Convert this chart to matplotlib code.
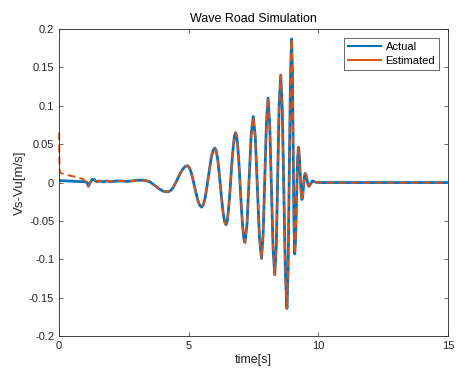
import numpy as np
import matplotlib
matplotlib.use("Agg")
import matplotlib.pyplot as plt

plt.rcParams["font.family"] = ["Liberation Sans", "DejaVu Sans"]

actual_t = [0.0, 1.0, 1.08, 1.13, 1.2, 1.28, 1.35, 1.45, 1.55, 1.7, 1.85, 2.0, 2.2,
            2.4, 2.6, 2.8, 3.0, 3.3, 3.5, 3.7, 3.85, 4.0, 4.1, 4.2,
            4.294, 4.39, 4.481, 4.575, 4.669, 4.76, 4.856, 4.95,
            5.019, 5.09, 5.156, 5.225, 5.294, 5.36, 5.431, 5.50,
            5.564, 5.63, 5.691, 5.755, 5.819, 5.88, 5.946, 6.01,
            6.064, 6.12, 6.171, 6.225, 6.279, 6.33, 6.386, 6.44,
            6.486, 6.53, 6.579, 6.625, 6.671, 6.72, 6.764, 6.81,
            6.855, 6.90, 6.945, 6.99, 7.035, 7.08, 7.125, 7.17,
            7.25, 7.33, 7.41, 7.49,
            7.57, 7.65, 7.73, 7.81,
            7.87, 7.935, 8.00, 8.06,
            8.125, 8.19, 8.255, 8.32,
            8.38, 8.435, 8.49, 8.55,
            8.61, 8.67, 8.73, 8.79,
            8.835, 8.88, 8.925, 8.97,
            9.00, 9.03, 9.06, 9.09,
            9.125, 9.16, 9.195, 9.23,
            9.265, 9.30, 9.335, 9.37,
            9.40, 9.43, 9.46, 9.49,
            9.53, 9.565, 9.60, 9.64,
            9.705, 9.77, 9.9, 10.0, 15.0]
actual_v = [0.0025, 0.001, 0.0, -0.005, 0.0, 0.004, 0.004, 0.001, 0.002, 0.001, 0.002, 0.001, 0.002,
            0.002, 0.0015, 0.002, 0.003, 0.003, 0.001, -0.004, -0.008, -0.011, -0.012, -0.012,
            -0.0107, -0.007, -0.0015, 0.005, 0.0115, 0.017, 0.0207, 0.022,
            0.0199, 0.014, 0.0053, -0.005, -0.0153, -0.024, -0.0299, -0.032,
            -0.0291, -0.021, -0.0082, 0.0065, 0.0212, 0.034, 0.0421, 0.045,
            0.0412, 0.030, 0.0141, -0.005, -0.0241, -0.040, -0.0512, -0.055,
            -0.0504, -0.037, -0.018, 0.005, 0.028, 0.047, 0.0604, 0.065,
            0.0596, 0.044, 0.0209, -0.0065, -0.0339, -0.057, -0.0726, -0.078,
            -0.054, 0.004, 0.062, 0.086,
            0.059, -0.0065, -0.072, -0.099,
            -0.068, 0.0055, 0.079, 0.110,
            0.076, -0.005, -0.086, -0.120,
            -0.082, 0.010, 0.102, 0.140,
            0.096, -0.0115, -0.119, -0.164,
            -0.112, 0.012, 0.136, 0.187,
            0.146, 0.047, -0.052, -0.093,
            -0.073, -0.0235, 0.026, 0.046,
            0.036, 0.012, -0.012, -0.022,
            -0.017, -0.005, 0.007, 0.012,
            0.0095, 0.0035, -0.0025, -0.005,
            -0.0015, 0.002, 0.0005, 0.0, 0.0]

# Estimated: 초반 구간만 실측과 다름, 이후는 실측을 따라감
est_early_t = [0.0, 0.01, 0.03, 0.1, 0.3, 0.55, 0.75, 0.95]
est_early_v = [0.065, 0.03, 0.013, 0.012, 0.010, 0.008, 0.0065, 0.004]

BLUE = "#0072BD"
ORANGE = "#D95319"
GRAY = "#262626"


def main() -> None:
    at = np.array(actual_t)
    av = np.array(actual_v)
    mask = at >= 1.0
    est_t = np.concatenate([est_early_t, at[mask]])
    est_v = np.concatenate([est_early_v, av[mask]])

    fig = plt.figure(figsize=(4.58, 3.76), dpi=100)
    ax = fig.add_axes([0.129, 0.106, 0.849, 0.817])

    ax.plot(at, av, color=BLUE, linewidth=2.0, label="Actual")
    # t=0 의 스파이크가 축선 위에 보이도록 클리핑 해제
    ax.plot(est_t, est_v, color=ORANGE, linewidth=1.4, linestyle="--",
            dashes=(4, 2.2), label="Estimated", clip_on=False)

    ax.set_xlim(0, 15)
    ax.set_ylim(-0.2, 0.2)
    ax.set_xticks([0, 5, 10, 15])
    ax.set_yticks(np.arange(-0.2, 0.201, 0.05))
    ax.set_yticklabels(["-0.2", "-0.15", "-0.1", "-0.05", "0", "0.05", "0.1", "0.15", "0.2"])

    ax.tick_params(direction="in", length=3, width=0.5, colors=GRAY, labelsize=8,
                   top=True, right=True)
    for sp in ax.spines.values():
        sp.set_color(GRAY)
        sp.set_linewidth(0.6)

    ax.set_title("Wave Road Simulation", fontsize=9, color="black", pad=5)
    ax.set_xlabel("time[s]", fontsize=9, color=GRAY, labelpad=2)
    ax.set_ylabel("Vs-Vu[m/s]", fontsize=9.5, color=GRAY, labelpad=2)

    leg = ax.legend(loc="upper right", fontsize=8, frameon=True, fancybox=False,
                    edgecolor=GRAY, handlelength=3.0, borderaxespad=0.8,
                    handletextpad=0.4, borderpad=0.35, labelspacing=0.35)
    leg.get_frame().set_linewidth(0.6)
    # 범례 안의 Estimated 선은 실선처럼 보임
    leg.get_lines()[1].set_linestyle("-")
    leg.get_lines()[0].set_linewidth(1.5)

    fig.savefig("out.png", dpi=100)


if __name__ == "__main__":
    main()
